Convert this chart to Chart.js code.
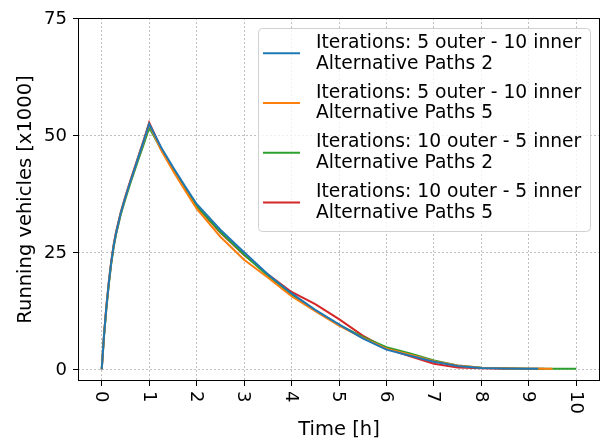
<!DOCTYPE html>
<html lang="en">
<head>
<meta charset="UTF-8" />
<title>Running vehicles</title>
<script src="https://cdn.jsdelivr.net/npm/chart.js"></script>
<style>
  html, body { margin: 0; padding: 0; background: white; }
</style>
</head>
<body>
<canvas id="grafico" width="605" height="445"></canvas>
<script>
// time axis (hours) shared by all runs
const hours = [0, 0.05, 0.1, 0.15, 0.2, 0.25, 0.3, 0.4, 0.5, 0.6, 0.75, 0.9, 1, 1.25, 1.5, 1.75, 2, 2.5, 3, 3.5, 4, 4.5, 5, 5.5, 6, 6.5, 7, 7.5, 8, 8.5, 9, 9.5, 10];

// running vehicles [x1000], one array per run
const run5o10i_p2 = [0, 7.5, 13.5, 18.5, 22.8, 26.3, 29.0, 33.3, 36.8, 40.0, 44.6, 49.2, 52.4, 47.4, 43.2, 39.2, 35.3, 29.8, 25.0, 20.3, 16.2, 12.7, 9.6, 6.6, 4.2, 2.9, 1.6, 0.7, 0.3, 0.15, 0.1];
const run5o10i_p5 = [0, 7.5, 13.5, 18.5, 22.8, 26.3, 29.0, 33.3, 36.8, 40.0, 44.6, 49.1, 52.3, 46.8, 42.4, 38.3, 34.3, 28.3, 23.4, 19.6, 15.6, 12.4, 9.3, 6.7, 4.4, 3.1, 1.7, 0.8, 0.35, 0.2, 0.1, 0.1];
const run10o5i_p2 = [0, 7.3, 13.2, 18.2, 22.5, 26.0, 28.7, 33.0, 36.4, 39.6, 44.1, 48.5, 51.6, 47.0, 42.8, 38.8, 34.9, 29.3, 24.5, 20.0, 15.9, 12.5, 9.5, 6.9, 4.7, 3.4, 1.9, 0.8, 0.35, 0.2, 0.12, 0.1, 0.1];
const run10o5i_p5 = [0, 7.6, 13.7, 18.7, 23.0, 26.5, 29.2, 33.5, 37.0, 40.2, 44.8, 49.4, 52.7, 47.2, 42.8, 38.8, 34.8, 29.2, 24.4, 20.3, 16.5, 13.9, 10.7, 7.2, 4.4, 2.8, 1.2, 0.4, 0.2, 0.12, 0.1];
// hour where each run stops
const lastHour = [9.2, 9.5, 10, 9.33];

const seriesLabels = [
  ['Iterations: 5 outer - 10 inner', 'Alternative Paths 2'],
  ['Iterations: 5 outer - 10 inner', 'Alternative Paths 5'],
  ['Iterations: 10 outer - 5 inner', 'Alternative Paths 2'],
  ['Iterations: 10 outer - 5 inner', 'Alternative Paths 5']
];
const colors = ['#1f77b4', '#ff7f0e', '#2ca02c', '#d62728'];

const xTicks = [0, 1, 2, 3, 4, 5, 6, 7, 8, 9, 10];
const yTicks = [0, 25, 50, 75];

const FONT = '"DejaVu Sans", sans-serif';

function puntos(vals, fim) {
  const pts = [];
  vals.forEach((v, i) => { if (hours[i] <= fim) pts.push({ x: hours[i], y: v }); });
  if (pts[pts.length - 1].x < fim) pts.push({ x: fim, y: vals[vals.length - 1] });
  return pts;
}

const allRuns = [run5o10i_p2, run5o10i_p5, run10o5i_p2, run10o5i_p5];
const datasets = allRuns.map((vals, i) => ({
  label: seriesLabels[i].join(' '),
  data: puntos(vals, lastHour[i]),
  borderColor: colors[i],
  borderWidth: 2,
  pointRadius: 0,
  fill: false,
  tension: 0
}));

// ticks labels, spines, titles and legend drawn like matplotlib
const decor = {
  id: 'decor',
  afterDraw(chart) {
    const c = chart.ctx;
    const a = chart.chartArea;
    const xs = chart.scales.x, ys = chart.scales.y;
    c.save();

    // spines
    c.setLineDash([]);
    c.strokeStyle = '#000';
    c.lineWidth = 1;
    c.strokeRect(Math.round(a.left) + 0.5, Math.round(a.top) + 0.5, Math.round(a.right - a.left) - 1, Math.round(a.bottom - a.top) - 1);

    c.fillStyle = '#000';
    // y tick labels
    c.font = '18px ' + FONT;
    c.textAlign = 'right';
    c.textBaseline = 'middle';
    yTicks.forEach(v => c.fillText(String(v), a.left - 11, ys.getPixelForValue(v) + 1));

    // x tick labels, rotated clockwise
    xTicks.forEach(v => {
      c.save();
      c.translate(xs.getPixelForValue(v) - 1, a.bottom + 10);
      c.rotate(Math.PI / 2);
      c.textAlign = 'left';
      c.textBaseline = 'middle';
      c.fillText(String(v), 0, 0);
      c.restore();
    });

    // axis titles
    c.font = '19.5px ' + FONT;
    c.textAlign = 'center';
    c.textBaseline = 'middle';
    c.fillText('Time [h]', (a.left + a.right) / 2, 430);
    c.save();
    c.translate(26, (a.top + a.bottom) / 2);
    c.rotate(-Math.PI / 2);
    c.fillText('Running vehicles [x1000]', 0, 0);
    c.restore();

    // legend box
    const lx = 258.5, ly = 28.5, lw = 332, lh = 203, r = 4;
    c.beginPath();
    c.moveTo(lx + r, ly);
    c.lineTo(lx + lw - r, ly);
    c.quadraticCurveTo(lx + lw, ly, lx + lw, ly + r);
    c.lineTo(lx + lw, ly + lh - r);
    c.quadraticCurveTo(lx + lw, ly + lh, lx + lw - r, ly + lh);
    c.lineTo(lx + r, ly + lh);
    c.quadraticCurveTo(lx, ly + lh, lx, ly + lh - r);
    c.lineTo(lx, ly + r);
    c.quadraticCurveTo(lx, ly, lx + r, ly);
    c.closePath();
    c.fillStyle = 'rgba(255,255,255,0.8)';
    c.fill();
    c.strokeStyle = '#d0d0d0';
    c.stroke();

    c.font = '18.7px ' + FONT;
    c.textAlign = 'left';
    c.textBaseline = 'middle';
    seriesLabels.forEach((lab, i) => {
      const y1 = 43 + i * 49.7;
      const y2 = y1 + 20.7;
      c.strokeStyle = colors[i];
      c.lineWidth = 2;
      c.beginPath();
      c.moveTo(263, (y1 + y2) / 2);
      c.lineTo(300, (y1 + y2) / 2);
      c.stroke();
      c.fillStyle = '#000';
      c.fillText(lab[0], 316, y1);
      c.fillText(lab[1], 316, y2);
    });

    c.restore();
  }
};

const gridStyle = {
  color: '#b0b0b0',
  lineWidth: 0.8,
  drawTicks: true,
  tickLength: 5,
  tickColor: '#000',
  tickWidth: 1,
  tickBorderDash: []
};

new Chart(document.getElementById('grafico').getContext('2d'), {
  type: 'line',
  data: { datasets },
  options: {
    responsive: false,
    animation: false,
    devicePixelRatio: 1,
    layout: { padding: { left: 73, right: 5, top: 18, bottom: 59 } },
    plugins: { legend: { display: false }, tooltip: { enabled: false } },
    scales: {
      x: {
        type: 'linear',
        min: -0.5,
        max: 10.5,
        afterBuildTicks: s => { s.ticks = xTicks.map(v => ({ value: v })); },
        ticks: { display: false },
        grid: gridStyle,
        border: { display: false, dash: [2, 2] }
      },
      y: {
        type: 'linear',
        min: -2.5,
        max: 75,
        afterBuildTicks: s => { s.ticks = yTicks.map(v => ({ value: v })); },
        ticks: { display: false },
        grid: gridStyle,
        border: { display: false, dash: [2, 2] }
      }
    }
  },
  plugins: [decor]
});
</script>
</body>
</html>
